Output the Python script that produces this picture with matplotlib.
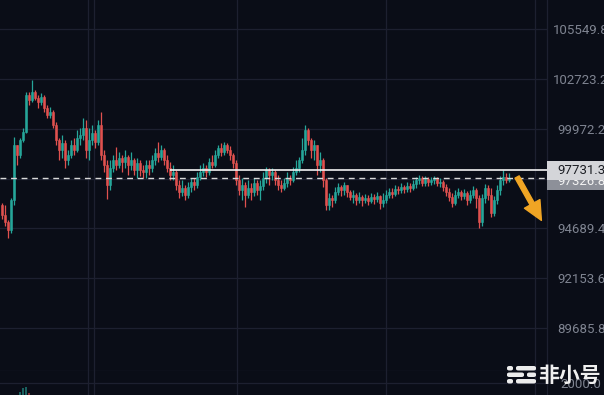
import matplotlib
matplotlib.use("Agg")
import matplotlib.pyplot as plt
import numpy as np
from matplotlib.patches import Rectangle, FancyBboxPatch
from matplotlib.ticker import NullLocator, FixedLocator

# candle data (open of each candle = previous close)
first_open = 95900
closes = [
    95380, 95020, 94600, 96160, 99090, 98550, 99360, 99790, 101820, 101550,
    101990, 101660, 101430, 101710, 101100, 100720, 100880, 100170, 99360, 98820,
    99200, 98280, 98550, 99090, 98820, 99470, 99630, 100010, 98820, 99360,
    99740, 99250, 100170, 98550, 98010, 96950, 97850, 98280, 98010, 98390,
    98170, 98440, 98010, 98280, 97750, 98120, 97750, 97640, 98010, 97850,
    98280, 98660, 98440, 98820, 98280, 97850, 97480, 97640, 96950, 96580,
    96790, 96430, 96850, 97110, 96950, 97370, 97640, 97850, 97640, 98170,
    98010, 98550, 98930, 98710, 99090, 98820, 98550, 98120, 97220, 96690,
    96950, 96430, 96790, 96580, 97060, 96690, 96900, 97320, 97750, 97480,
    97640, 97220, 96950, 96790, 97060, 97320, 97220, 97640, 97850, 98280,
    98820, 99900, 99360, 98820, 99090, 98010, 98280, 97220, 95900, 96270,
    96160, 96580, 96850, 96690, 96950, 96580, 96320, 96430, 96160, 96320,
    96160, 96270, 96110, 96320, 96210, 96370, 96010, 96160, 96430, 96580,
    96480, 96740, 96690, 96850, 96740, 96900, 96790, 97000, 97220, 97320,
    97060, 97270, 97110, 97220, 97320, 97060, 97110, 96850, 96580, 96320,
    96010, 96430, 96580, 96370, 96530, 96160, 96430, 96690, 96270, 95020,
    96270, 96790, 96430, 95480, 96160, 96690, 97220, 97370, 97220, 97326.8,
]
highs = [
    96010, 95900, 95120, 96270, 99520, 99090, 99470, 100010, 101990, 101990,
    102660, 102100, 101820, 101930, 101820, 101270, 101160, 100990, 100340, 99470,
    99630, 99360, 98820, 99360, 99470, 99900, 100010, 100550, 100450, 100010,
    100170, 99900, 100450, 100880, 98820, 98280, 98280, 98550, 98980, 98710,
    98550, 98820, 98550, 98710, 98390, 98390, 98280, 98010, 98280, 98280,
    98550, 98930, 99250, 99090, 98930, 98550, 98170, 98010, 97750, 97220,
    97220, 96950, 97110, 97320, 97320, 97640, 98010, 98120, 98010, 98390,
    98550, 98820, 99090, 99200, 99250, 99200, 99030, 98660, 98280, 97480,
    97320, 97110, 97220, 97060, 97320, 97220, 97220, 97640, 97910, 97850,
    97850, 97750, 97480, 97220, 97320, 97640, 97480, 97910, 98280, 98440,
    99470, 100170, 100010, 99470, 99360, 99090, 98710, 98390, 97320, 96530,
    96430, 96850, 97060, 96950, 97110, 96950, 96690, 96690, 96530, 96580,
    96430, 96480, 96430, 96530, 96480, 96580, 96430, 96530, 96690, 96790,
    96790, 96950, 96900, 97060, 96950, 97110, 97060, 97220, 97370, 97480,
    97430, 97430, 97370, 97370, 97430, 97370, 97320, 97220, 97000, 96790,
    96530, 96690, 96790, 96690, 96740, 96640, 96690, 96900, 96790, 96430,
    96480, 97000, 96950, 96790, 96370, 96950, 97430, 97750, 97590, 97590,
]
lows = [
    95170, 94810, 94190, 94450, 95900, 98010, 98390, 99250, 99740, 101270,
    101430, 101550, 101100, 101270, 100880, 100550, 100550, 100010, 99090, 98280,
    98390, 97850, 98010, 98390, 98550, 98710, 99090, 99360, 98390, 98280,
    99090, 98930, 99090, 98280, 97640, 96210, 96690, 97640, 97750, 97850,
    97640, 97850, 97480, 97750, 97480, 97320, 97430, 97320, 97320, 97480,
    97640, 98010, 98170, 98280, 98010, 97640, 97220, 97220, 96690, 96270,
    96370, 96160, 96270, 96580, 96690, 96790, 97220, 97430, 97370, 97480,
    97850, 97910, 98390, 98500, 98550, 98660, 98280, 97850, 96950, 96430,
    96160, 95800, 96270, 96160, 96370, 96430, 96160, 96690, 97060, 96950,
    97220, 96950, 96690, 96580, 96690, 96850, 96950, 97110, 97480, 97640,
    98120, 98550, 99090, 98390, 98280, 97480, 97640, 96850, 95640, 95640,
    95800, 96010, 96430, 96370, 96430, 96320, 96160, 96010, 95900, 96010,
    95850, 96010, 95900, 96010, 95950, 96060, 95690, 95800, 96010, 96270,
    96270, 96370, 96480, 96530, 96530, 96580, 96580, 96690, 96790, 97000,
    96900, 96900, 96900, 96950, 97000, 96900, 96850, 96640, 96370, 96110,
    95800, 95900, 96270, 96160, 96210, 95900, 96010, 96270, 95750, 94710,
    94810, 96010, 96160, 95280, 95330, 95950, 96430, 96950, 97060, 97110,
]
volumes = [
    700, 800, 950, 1200, 1250, 1100, 1450, 1700, 1750, 1400,
    1150, 900, 750, 650, 700, 600, 550, 650, 800, 900,
    700, 850, 600, 550, 500, 600, 550, 650, 800, 700,
    600, 650, 750, 900, 800, 1100, 900, 700, 600, 550,
    500, 480, 520, 450, 500, 470, 430, 450, 420, 460,
    500, 550, 520, 480, 500, 550, 600, 520, 700, 750,
    650, 700, 600, 550, 500, 480, 520, 450, 430, 470,
    500, 520, 480, 450, 470, 500, 520, 600, 850, 900,
    800, 750, 650, 600, 550, 500, 480, 520, 450, 430,
    460, 500, 520, 480, 450, 470, 440, 500, 550, 620,
    800, 1150, 900, 800, 700, 850, 700, 900, 1200, 900,
    750, 650, 600, 550, 520, 500, 480, 450, 470, 430,
    420, 400, 430, 410, 400, 420, 500, 480, 450, 430,
    410, 400, 390, 420, 400, 380, 400, 420, 450, 430,
    410, 400, 390, 380, 400, 420, 410, 450, 500, 550,
    620, 560, 500, 480, 460, 520, 480, 450, 600, 1000,
    900, 700, 650, 800, 750, 650, 620, 580, 500, 450,
]

price_ticks = [105549.8, 102723.2, 99972.2, 97294.9, 94689.4, 92153.6, 89685.8]
price_labels = ["105549.8", "102723.2", "99972.2", "", "94689.4", "92153.6", "89685.8"]
time_grid = [28.67, 30.67, 78.33, 128.0, 177.67]
level_price = 97731.3
level_start = 56
last_price = 97326.8
vol_tick = 2000.0
arrow_from = (171.7, 97374)
arrow_to = (179.8, 95100)

BG = "#0a0d17"
GRID = "#1d2030"
UP = "#26a69a"
DOWN = "#e0514f"
LABEL = "#7f8491"

plt.rcParams["font.family"] = ["Roboto", "DejaVu Sans"]

opens = [first_open] + closes[:-1]
n = len(closes)
xs = np.arange(n)
colors = [UP if c >= o else DOWN for o, c in zip(opens, closes)]

W, H = 604, 395
fig = plt.figure(figsize=(W / 100, H / 100), dpi=100, facecolor=BG)
ax = fig.add_axes([0, 24 / H, 547 / W, 371 / H])
ax.set_facecolor(BG)
ax.set_yscale("log")
ymin, ymax = 87609, 107231
ax.set_ylim(ymin, ymax)
xlim = (-2 / 3, 545 / 3)
ax.set_xlim(*xlim)

# grid
ax.yaxis.set_major_locator(FixedLocator(price_ticks))
ax.yaxis.set_minor_locator(NullLocator())
ax.set_xticks(time_grid)
ax.grid(True, color=GRID, lw=0.9, zorder=0)
ax.tick_params(axis="x", length=0, labelbottom=False)
ax.yaxis.tick_right()
ax.set_yticklabels(price_labels)
ax.tick_params(axis="y", length=0, pad=24.5, labelsize=9.5, labelcolor=LABEL)
for lbl in ax.get_yticklabels():
    lbl.set_horizontalalignment("center")
for s in ["top", "left"]:
    ax.spines[s].set_visible(False)
for s in ["right", "bottom"]:
    ax.spines[s].set_color(GRID)
    ax.spines[s].set_linewidth(0.9)

# candles
ax.vlines(xs, lows, highs, colors=colors, lw=0.9, zorder=2)
bottoms = np.minimum(opens, closes)
heights = np.abs(np.array(closes) - np.array(opens))
ax.bar(xs, heights, bottom=bottoms, width=0.62, color=colors,
       edgecolor=colors, linewidth=0.4, zorder=3)

# levels
ax.hlines(level_price, level_start, xlim[1], colors="#f2f2f2", lw=1.2, zorder=4)
ax.axhline(last_price, color="#d8d8d8", lw=1.0, dashes=(4.2, 3.4), zorder=4)

ax.annotate("", xy=arrow_to, xytext=arrow_from,
            arrowprops=dict(arrowstyle="simple,head_length=0.8,head_width=0.75,tail_width=0.2",
                            color="#f0a524", shrinkA=0, shrinkB=0, mutation_scale=17),
            zorder=5)

# price labels on the scale
def yfrac(p):
    return (np.log(p) - np.log(ymin)) / (np.log(ymax) - np.log(ymin))

trans = ax.transAxes
ph = 371.0
box_w = (W - 547) / 547
cx = 581 / 547
y2 = yfrac(last_price) - 3.5 / ph
ax.add_patch(Rectangle((1.0, y2 - 9 / ph), box_w, 18 / ph, transform=trans,
                       facecolor="#8d9099", edgecolor="none", clip_on=False, zorder=6))
ax.text(cx, y2, "97326.8", transform=trans, ha="center", va="center", fontsize=9.5,
        color="#f4f4f4", clip_on=False, zorder=7)
y1 = yfrac(level_price)
ax.add_patch(Rectangle((1.0, y1 - 9.5 / ph), box_w, 19 / ph, transform=trans,
                       facecolor="#d4d5d9", edgecolor="none", clip_on=False, zorder=8))
ax.text(cx, y1, "97731.3", transform=trans, ha="center", va="center", fontsize=9.5,
        color="#1c1e24", clip_on=False, zorder=9)

# volume pane
vax = fig.add_axes([0, 0, 547 / W, 24 / H])
vax.set_facecolor(BG)
vax.set_xlim(*xlim)
vax.set_ylim(1300, 2700)
vax.bar(xs, volumes, width=0.62, color=colors, alpha=0.55, zorder=2)
vax.set_yticks([vol_tick])
vax.set_xticks(time_grid)
vax.grid(True, color=GRID, lw=0.9, zorder=0)
vax.tick_params(axis="x", length=0, labelbottom=False)
vax.yaxis.tick_right()
vax.set_yticklabels(["2000.0"])
vax.tick_params(axis="y", length=0, pad=24.5, labelsize=9.5, labelcolor=LABEL)
for lbl in vax.get_yticklabels():
    lbl.set_horizontalalignment("center")
for s in ["top", "left", "bottom"]:
    vax.spines[s].set_visible(False)
vax.spines["right"].set_color(GRID)

# watermark
def fx(px):
    return px / W

def fy(py):
    return 1 - py / H

pills = [(507, 366, 6), (516, 366, 20), (507, 372.5, 17), (527, 372.5, 9),
         (507, 379, 6), (516, 379, 20)]
for x0, y0, w in pills:
    fig.patches.append(FancyBboxPatch((fx(x0), fy(y0 + 4.5)), w / W, 4.5 / H,
                                      boxstyle="round,pad=0,rounding_size=0.004",
                                      transform=fig.transFigure, facecolor="#ececec",
                                      edgecolor="none", zorder=10))
fig.text(fx(538), fy(375.5), "非小号", ha="left", va="center", fontsize=15,
         fontweight="bold", color="#efefef", family=["Noto Sans CJK SC", "DejaVu Sans"],
         zorder=11)

fig.savefig("out.png", dpi=100, facecolor=BG)
